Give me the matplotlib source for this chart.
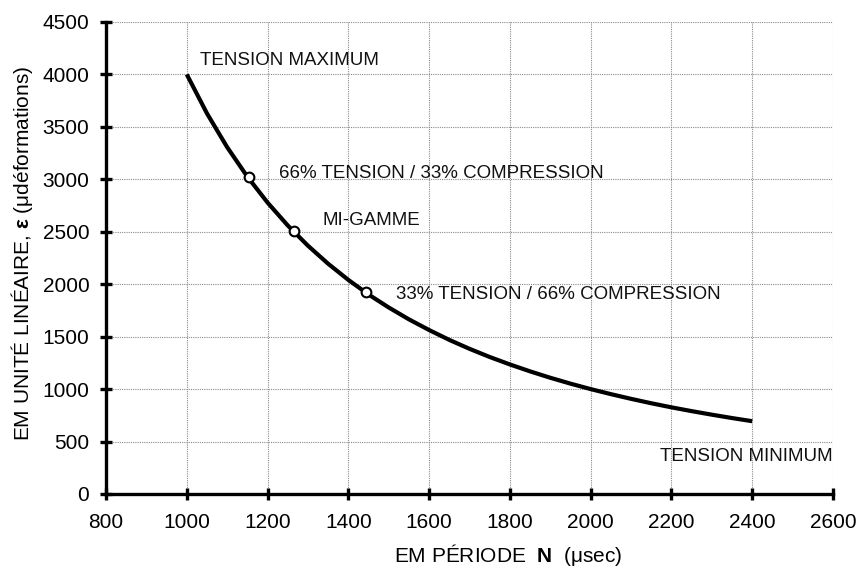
import matplotlib

matplotlib.use("Agg")
import matplotlib.pyplot as plt

# EM period N (usec) vs strain (microstrain)
PERIOD = [1000, 1050, 1100, 1150, 1200, 1250, 1300, 1350, 1400, 1450,
          1500, 1550, 1600, 1650, 1700, 1750, 1800, 1850, 1900, 1950,
          2000, 2050, 2100, 2150, 2200, 2250, 2300, 2350, 2400]
STRAIN = [4000, 3628, 3306, 3025, 2778, 2560, 2367, 2195, 2041, 1902,
          1778, 1665, 1563, 1469, 1384, 1306, 1235, 1169, 1108, 1052,
          1000, 952, 907, 865, 826, 790, 756, 724, 694]

MARK_PERIOD = [1155, 1266, 1443]
MARK_STRAIN = [3020, 2505, 1930]

LABELS = ["TENSION MAXIMUM", "66% TENSION / 33% COMPRESSION", "MI-GAMME",
          "33% TENSION / 66% COMPRESSION", "TENSION MINIMUM"]
LABEL_X = [1033, 1228, 1335, 1518, 2600]
LABEL_Y = [4130, 3060, 2605, 1900, 355]
LABEL_HA = ["left", "left", "left", "left", "right"]

XTICKS = list(range(800, 2601, 200))
YTICKS = list(range(0, 4501, 500))

plt.rcParams.update({
    "font.family": ["Liberation Sans", "DejaVu Sans"],
    "mathtext.fontset": "custom",
    "mathtext.rm": "Liberation Sans",
    "mathtext.bf": "Liberation Sans:bold",
    "mathtext.it": "Liberation Sans:italic",
})

FS_NOTE = 13.5
FS_AXIS = 15

fig = plt.figure(figsize=(8.57, 5.74), dpi=100)
ax = fig.add_axes([0.1237, 0.1394, 0.9720 - 0.1237, 0.9617 - 0.1394])

ax.plot(PERIOD, STRAIN, color="black", linewidth=3.0, zorder=3,
        solid_capstyle="butt")
ax.plot(MARK_PERIOD, MARK_STRAIN, "o", color="white", markeredgecolor="black",
        markersize=7, markeredgewidth=1.5, zorder=4)

for txt, x, y, ha in zip(LABELS, LABEL_X, LABEL_Y, LABEL_HA):
    ax.text(x, y, txt, ha=ha, va="center", fontsize=FS_NOTE, color="#111111",
            zorder=5)

ax.set_xlim(800, 2600)
ax.set_ylim(0, 4500)
ax.set_xticks(XTICKS)
ax.set_yticks(YTICKS)

ax.grid(True, color="#8a8a8a", linestyle=(0, (1, 1)), linewidth=0.8)
ax.set_axisbelow(True)
for side in ("top", "right"):
    ax.spines[side].set_visible(False)
for side in ("left", "bottom"):
    ax.spines[side].set_linewidth(2.4)
ax.tick_params(direction="inout", length=8, width=2.4, labelsize=FS_AXIS,
               colors="black")
ax.tick_params(axis="y", pad=8)
ax.tick_params(axis="x", pad=10)

# axis titles placed as in the reference (x title sits right of centre)
fig.text(508 / 857, 1 - 555 / 574, r"EM PÉRIODE  $\mathbf{N}$  (μsec)",
         ha="center", va="center", fontsize=FS_AXIS)
fig.text(22 / 857, 1 - 253 / 574,
         r"EM UNITÉ LINÉAIRE, $\mathbf{ε}$ (μdéformations)",
         ha="center", va="center", rotation=90, fontsize=FS_AXIS)

fig.savefig("out.png", dpi=100)
